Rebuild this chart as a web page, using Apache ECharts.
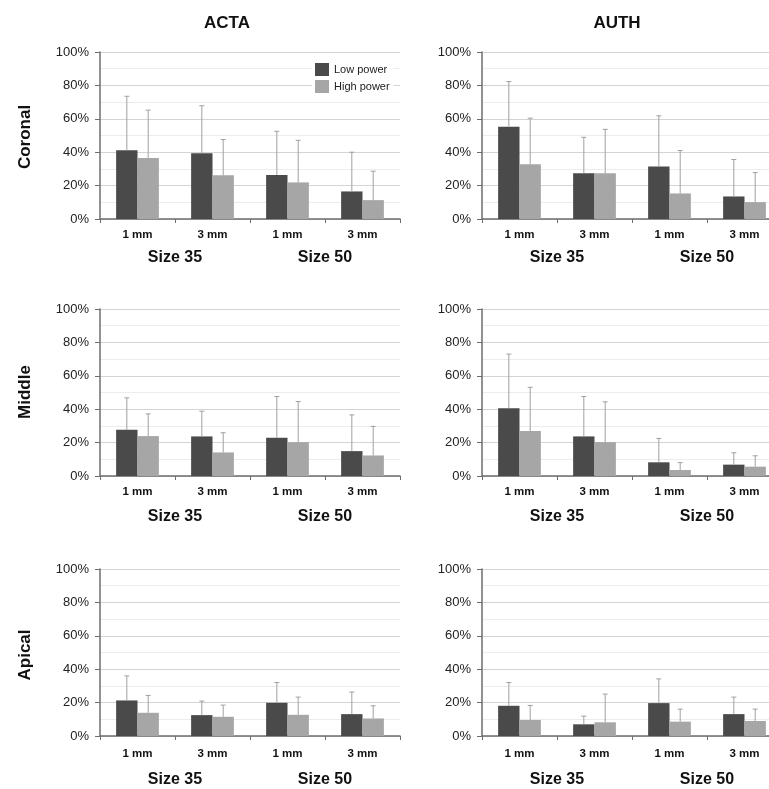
<!DOCTYPE html>
<html>
<head>
<meta charset="utf-8">
<script src="https://cdn.jsdelivr.net/npm/echarts@6/dist/echarts.min.js"></script>
<style>
  html, body { margin: 0; padding: 0; background: #fff; overflow: hidden; }
  #chart { width: 790px; height: 789px; }
</style>
</head>
<body>
<div id="chart"></div>
<script>
// categories and labels
var categories = ['1 mm', '3 mm', '1 mm', '3 mm'];
var groups = ['Size 35', 'Size 50'];
var columns = ['ACTA', 'AUTH'];
var rows = ['Coronal', 'Middle', 'Apical'];
var yTicks = [0, 20, 40, 60, 80, 100];

// mean values (%) and upper end of the error bar (%)
var actaCoronalLow = [41.2, 39.4, 26.4, 16.5];
var actaCoronalLowUpper = [73.5, 67.8, 52.5, 40];
var actaCoronalHigh = [36.6, 26.2, 21.9, 11.3];
var actaCoronalHighUpper = [65.2, 47.6, 47.1, 28.6];

var authCoronalLow = [55.3, 27.4, 31.4, 13.5];
var authCoronalLowUpper = [82.3, 48.9, 61.8, 35.6];
var authCoronalHigh = [32.8, 27.4, 15.3, 10.1];
var authCoronalHighUpper = [60.4, 53.7, 41, 27.8];

var actaMiddleLow = [27.7, 23.7, 22.9, 14.9];
var actaMiddleLowUpper = [46.8, 38.8, 47.6, 36.6];
var actaMiddleHigh = [23.9, 14.1, 20.3, 12.3];
var actaMiddleHighUpper = [37.2, 25.9, 44.6, 29.7];

var authMiddleLow = [40.6, 23.7, 8.2, 6.8];
var authMiddleLowUpper = [73, 47.6, 22.5, 13.9];
var authMiddleHigh = [26.9, 20.3, 3.6, 5.6];
var authMiddleHighUpper = [53.1, 44.4, 8, 12.1];

var actaApicalLow = [21.3, 12.5, 19.9, 13.1];
var actaApicalLowUpper = [36, 20.9, 32, 26.3];
var actaApicalHigh = [13.9, 11.5, 12.7, 10.5];
var actaApicalHighUpper = [24.3, 18.5, 23.3, 18.1];

var authApicalLow = [18.1, 7, 19.7, 13.1];
var authApicalLowUpper = [32, 11.9, 34.2, 23.3];
var authApicalHigh = [9.6, 8.2, 8.6, 9];
var authApicalHighUpper = [18.3, 25.1, 16.1, 16.1];

var panels = [
  [actaCoronalLow, actaCoronalLowUpper, actaCoronalHigh, actaCoronalHighUpper],
  [authCoronalLow, authCoronalLowUpper, authCoronalHigh, authCoronalHighUpper],
  [actaMiddleLow, actaMiddleLowUpper, actaMiddleHigh, actaMiddleHighUpper],
  [authMiddleLow, authMiddleLowUpper, authMiddleHigh, authMiddleHighUpper],
  [actaApicalLow, actaApicalLowUpper, actaApicalHigh, actaApicalHighUpper],
  [authApicalLow, authApicalLowUpper, authApicalHigh, authApicalHighUpper]
];

var DARK = '#4a4a4a';
var LIGHT = '#a6a6a6';
var FONT = 'Liberation Sans, Arial, sans-serif';
var CAT_GAP = 0.43;

// layout of the panels (the right column runs past the picture's edge)
var colLeft = [100, 482];
var rowTop = [52, 309, 569];
var plotW = 300;
var plotH = 167;
var groupMargin = [31, 33, 36];
var catMargin = [10, 10, 12];

// error bar drawn above one bar of the pair
function errorBar(side) {
  return function (params, api) {
    var idx = api.value(0);
    var bottom = api.coord([idx, api.value(1)]);
    var top = api.coord([idx, api.value(2)]);
    var band = api.size([1, 0])[0];
    var barW = band * (1 - CAT_GAP) / 2;
    var x = bottom[0] + side * barW / 2;
    var style = { stroke: '#a0a0a0', lineWidth: 1 };
    return {
      type: 'group',
      children: [
        { type: 'line', shape: { x1: x, y1: bottom[1], x2: x, y2: top[1] }, style: style },
        { type: 'line', shape: { x1: x - 2.5, y1: top[1], x2: x + 2.5, y2: top[1] }, style: style }
      ]
    };
  };
}

var grids = [], xAxes = [], yAxes = [], series = [];

panels.forEach(function (p, k) {
  var r = Math.floor(k / 2), c = k % 2;
  grids.push({ left: colLeft[c], top: rowTop[r], width: plotW, height: plotH });

  xAxes.push({
    type: 'category', gridIndex: k, data: categories,
    axisLine: { lineStyle: { color: '#6e6e6e', width: 1.5 } },
    axisTick: { show: true, length: 4, lineStyle: { color: '#6e6e6e' } },
    axisLabel: { color: '#111', fontWeight: 'bold', fontSize: 11.5, fontFamily: FONT, margin: catMargin[r] },
    splitLine: { show: false }
  });
  xAxes.push({
    type: 'category', gridIndex: k, data: groups, position: 'bottom',
    axisLine: { show: false }, axisTick: { show: false },
    axisLabel: { color: '#111', fontWeight: 'bold', fontSize: 16, fontFamily: FONT, margin: groupMargin[r] },
    splitLine: { show: false }
  });
  yAxes.push({
    type: 'value', gridIndex: k, min: yTicks[0], max: yTicks[yTicks.length - 1], interval: yTicks[1] - yTicks[0],
    axisLine: { show: true, lineStyle: { color: '#6e6e6e', width: 1.5 } },
    axisTick: { show: true, length: 5, lineStyle: { color: '#6e6e6e' } },
    axisLabel: { formatter: '{value}%', color: '#222', fontSize: 13, fontFamily: FONT, margin: 11 },
    splitLine: { lineStyle: { color: '#d4d4d4', width: 1 } },
    minorTick: { show: false, splitNumber: 2 },
    minorSplitLine: { show: true, lineStyle: { color: '#ececec', width: 1 } }
  });

  var xi = k * 2;
  series.push({
    name: 'Low power', type: 'bar', xAxisIndex: xi, yAxisIndex: k, data: p[0],
    itemStyle: { color: DARK }, barGap: '0%', barCategoryGap: (CAT_GAP * 100) + '%', z: 2
  });
  series.push({
    name: 'High power', type: 'bar', xAxisIndex: xi, yAxisIndex: k, data: p[2],
    itemStyle: { color: LIGHT }, barGap: '0%', barCategoryGap: (CAT_GAP * 100) + '%', z: 2
  });
  series.push({
    type: 'custom', xAxisIndex: xi, yAxisIndex: k, renderItem: errorBar(-1), z: 3,
    encode: { x: 0, y: [1, 2] },
    data: p[0].map(function (v, i) { return [i, v, p[1][i]]; })
  });
  series.push({
    type: 'custom', xAxisIndex: xi, yAxisIndex: k, renderItem: errorBar(1), z: 3,
    encode: { x: 0, y: [1, 2] },
    data: p[2].map(function (v, i) { return [i, v, p[3][i]]; })
  });
});

var titleX = [222, 612];
var titles = columns.map(function (name, c) {
  return {
    text: name, left: titleX[c], top: 10, textAlign: 'center',
    textStyle: { fontSize: 17, fontWeight: 'bold', color: '#111', fontFamily: FONT }
  };
});

var rowLabelY = [137, 392, 655];
var rowLabels = rows.map(function (name, r) {
  return {
    type: 'text', x: 25, y: rowLabelY[r], rotation: Math.PI / 2,
    style: {
      text: name, fill: '#111', font: 'bold 17px ' + FONT,
      textAlign: 'center', textVerticalAlign: 'middle'
    }
  };
});

var myChart = echarts.init(document.getElementById('chart'), null, { renderer: 'canvas' });
myChart.setOption({
  backgroundColor: '#fff',
  animation: false,
  title: titles,
  legend: {
    data: ['Low power', 'High power'], orient: 'vertical', left: 312, top: 61,
    itemWidth: 14, itemHeight: 13, itemGap: 4, icon: 'rect',
    backgroundColor: '#fff', padding: [2, 4, 2, 3],
    textStyle: { fontSize: 11, color: '#222', fontFamily: FONT }
  },
  grid: grids,
  xAxis: xAxes,
  yAxis: yAxes,
  graphic: rowLabels,
  series: series
});
</script>
</body>
</html>
